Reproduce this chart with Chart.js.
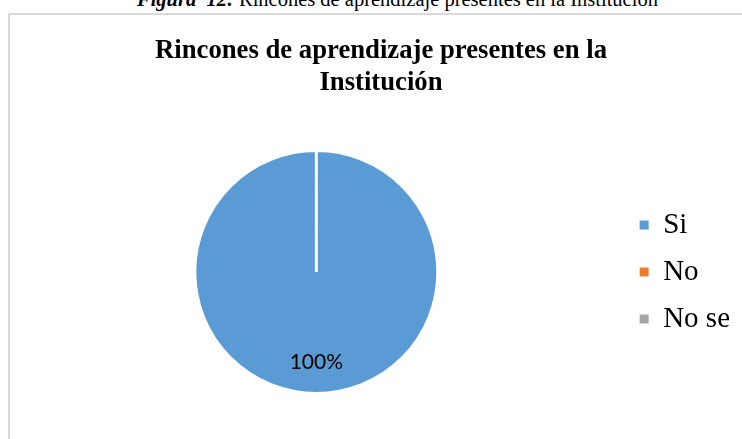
<!DOCTYPE html>
<html>
<head>
<meta charset="utf-8">
<script src="https://cdn.jsdelivr.net/npm/chart.js@4.4.1/dist/chart.umd.min.js"></script>
<style>
  html, body { margin: 0; padding: 0; background: #fff; overflow: hidden; }
  body { width: 742px; height: 439px; position: relative; }
  #caption {
    position: absolute; left: 137px; top: -12px; white-space: nowrap;
    font-family: "Liberation Serif", "Times New Roman", serif; font-size: 20.5px; color: #000;
  }
  #frame {
    position: absolute; left: 8px; top: 13px; width: 760px; height: 460px;
    border: 2px solid #d9d9d9; box-sizing: border-box;
  }
  #wrap { position: absolute; left: 0; top: 0; width: 762px; height: 439px; }
</style>
</head>
<body>
<div id="caption"><b><i>Figura&nbsp; 12:</i></b> Rincones de aprendizaje presentes en la Institución</div>
<div id="frame"></div>
<div id="wrap"><canvas id="chart" width="762" height="439"></canvas></div>
<script>
  'use strict';

  // ---- Data ----
  const categories = ['Si', 'No', 'No se'];
  const percentages = [100, 0, 0];
  const sliceColors = ['#5b9bd5', '#ed7d31', '#a5a5a5'];
  const chartTitle = ['Rincones de aprendizaje presentes en la', 'Institución'];

  const serif = '"Liberation Serif", "Times New Roman", serif';

  // ---- Title, centred on the whole frame (the legend would push Chart.js' own title off) ----
  const frameTitle = {
    id: 'frameTitle',
    afterDraw(chart) {
      const ctx = chart.ctx;
      ctx.save();
      ctx.font = 'bold 26.7px ' + serif;
      ctx.fillStyle = '#000';
      ctx.textAlign = 'center';
      ctx.textBaseline = 'alphabetic';
      chartTitle.forEach((line, i) => ctx.fillText(line, chart.width / 2, 58 + i * 32));
      ctx.restore();
    }
  };

  // ---- Percent labels inside slices ----
  const pieLabels = {
    id: 'pieLabels',
    afterDatasetsDraw(chart) {
      const ctx = chart.ctx;
      const meta = chart.getDatasetMeta(0);
      ctx.save();
      ctx.font = '21px Lato, "Open Sans", sans-serif';
      ctx.fillStyle = '#000';
      ctx.textAlign = 'center';
      ctx.textBaseline = 'middle';
      meta.data.forEach((arc, i) => {
        const v = percentages[i];
        if (!v) return;
        const p = arc.getProps(['x', 'y', 'startAngle', 'endAngle', 'outerRadius'], true);
        const mid = (p.startAngle + p.endAngle) / 2;
        const r = p.outerRadius * 0.74;
        ctx.fillText(v + '%', p.x + Math.cos(mid) * r, p.y + Math.sin(mid) * r);
      });
      ctx.restore();
    }
  };

  new Chart(document.getElementById('chart').getContext('2d'), {
    type: 'pie',
    data: {
      labels: categories,
      datasets: [{
        data: percentages,
        backgroundColor: sliceColors,
        borderColor: '#ffffff',
        borderWidth: 3
      }]
    },
    options: {
      responsive: false,
      animation: false,
      layout: { padding: { left: 11, right: 22, top: 149, bottom: 44 } },
      plugins: {
        title: { display: false },
        legend: {
          position: 'right',
          align: 'center',
          fullSize: false,
          labels: {
            color: '#000',
            boxWidth: 9,
            boxHeight: 9,
            padding: 18,
            font: { family: serif, size: 29 },
            generateLabels(chart) {
              const items = Chart.controllers.pie.overrides.plugins.legend.labels.generateLabels(chart);
              return items.map(it => Object.assign(it, { lineWidth: 0, strokeStyle: 'rgba(0,0,0,0)' }));
            }
          }
        },
        tooltip: { enabled: false }
      }
    },
    plugins: [pieLabels, frameTitle]
  });
</script>
</body>
</html>
